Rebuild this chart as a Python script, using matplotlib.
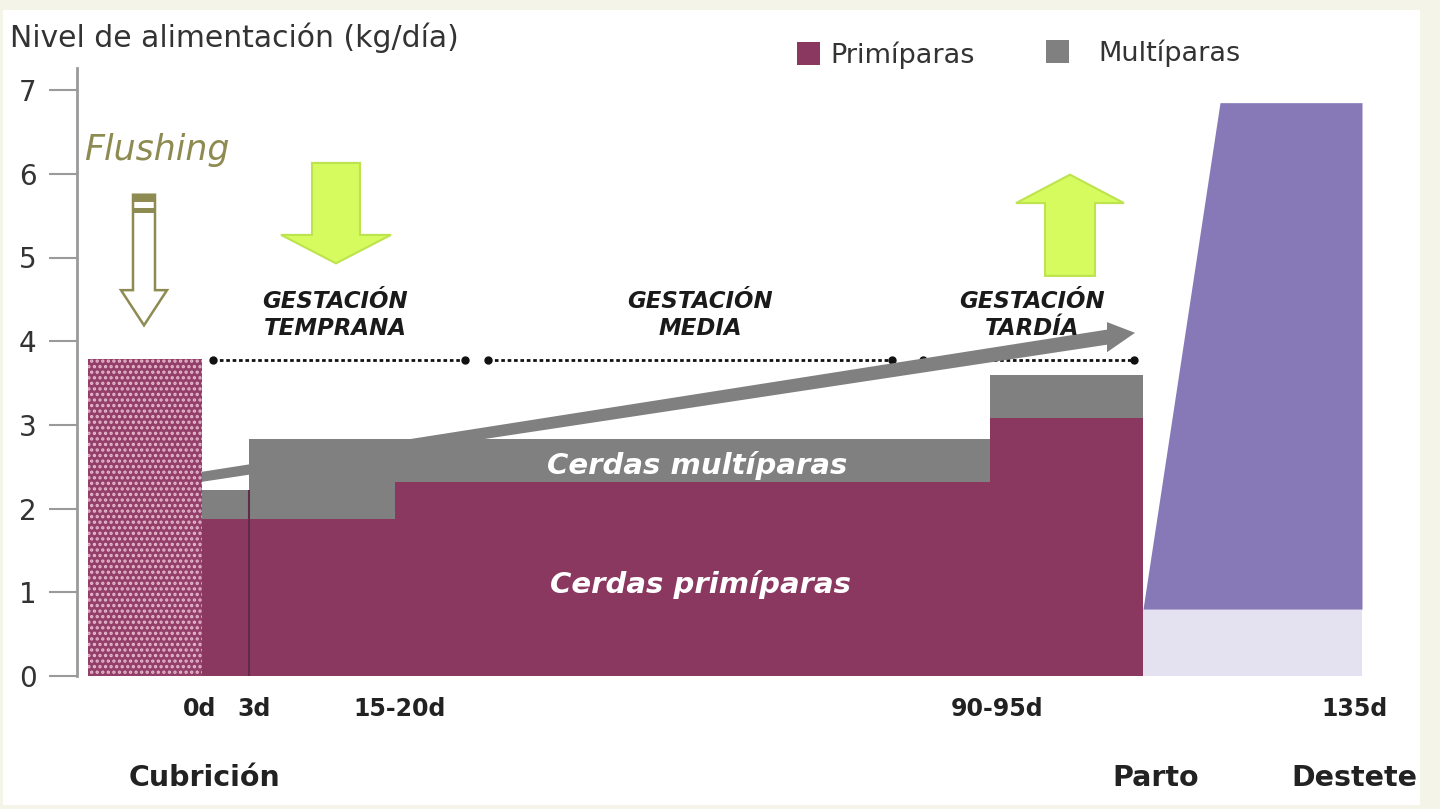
import numpy as np
import matplotlib.pyplot as plt
from matplotlib.patches import Polygon, Rectangle

# posiciones esquemáticas en x (el esquema no está a escala de días)
fases_x = [202, 249, 395, 990, 1143]      # 0d, 3d, 15-20d, 90-95d, parto
primiparas = [1.87, 1.87, 2.32, 3.08]     # kg/día
multiparas = [2.22, 2.83, 2.83, 3.60]     # kg/día

flushing_x = [88, 202]
flushing_nivel = 3.79

lactacion_x = [1143, 1220, 1362]
lactacion_base = 0.80
lactacion_max = 6.85

dias_pos = [200, 254, 400, 997, 1354]
dias_txt = ['0d', '3d', '15-20d', '90-95d', '135d']

hitos_pos = [205, 1156, 1354]
hitos_txt = ['Cubrición', 'Parto', 'Destete']

periodos_txt = ['GESTACIÓN\nTEMPRANA', 'GESTACIÓN\nMEDIA', 'GESTACIÓN\nTARDÍA']
periodos_ini = [213, 488, 923]
periodos_fin = [465, 892, 1134]
periodos_centro = [335, 700, 1032]
periodos_nivel = 3.78

# flecha gris de tendencia: cola (x, y), punta (x, y)
tendencia_cola = (202, 2.38)
tendencia_punta = (1135, 4.10)

MAG = '#8b3860'
GRIS = '#808080'
LILA = '#8779b7'
LILA_CLARO = '#e4e2f1'
LIMA = '#d6fb5f'
OLIVA = '#8e8b52'

plt.rcParams['hatch.linewidth'] = 1.6

W, H = 1440, 809
fig = plt.figure(figsize=(W / 100, H / 100), dpi=100, facecolor='#f5f4e8')
fig.add_artist(Rectangle((3 / W, 1 - 805 / H), 1417 / W, 795 / H,
                         transform=fig.transFigure, facecolor='white',
                         edgecolor='none', zorder=-1))

ax = fig.add_axes([77 / W, 1 - 676 / H, (1420 - 77) / W, (676 - 68) / H])
ax.patch.set_visible(False)
ax.set_xlim(77, 1420)
ax.set_ylim(0, (676 - 68) / 83.7)
for s in ['top', 'right', 'bottom']:
    ax.spines[s].set_visible(False)
ax.spines['left'].set_color('#9a9a9a')
ax.spines['left'].set_linewidth(2)

ax.set_yticks(range(8))
ax.tick_params(axis='y', length=20, width=1.5, color='#9a9a9a', pad=9,
               labelsize=20, labelcolor='#333333')
ax.set_xticks(dias_pos, dias_txt)
ax.tick_params(axis='x', length=0, pad=15, labelsize=17, labelcolor='#222222')
for lbl in ax.get_xticklabels():
    lbl.set_fontweight('bold')

# barras escalonadas
ax.stairs([flushing_nivel], flushing_x, baseline=0, fill=True,
          facecolor='#933f69', edgecolor='#e6b8cd', hatch='...', linewidth=0)
ax.stairs(primiparas, fases_x, baseline=0, fill=True, color=MAG)
ax.stairs(multiparas, fases_x, baseline=primiparas, fill=True, color=GRIS)
ax.vlines(fases_x[1], 0, multiparas[0], color='#5e2c47', lw=1.5)

# lactación
ax.fill_between([lactacion_x[0], lactacion_x[-1]], 0, lactacion_base,
                color=LILA_CLARO, lw=0)
ax.fill_between(lactacion_x, lactacion_base,
                [lactacion_base, lactacion_max, lactacion_max], color=LILA, lw=0)

# flecha gris de tendencia
x0, y0 = tendencia_cola
xt, yt = tendencia_punta
xb = xt - 28
yb = y0 + (yt - y0) * (xb - x0) / (xt - x0)
verts = [(x0, y0 + 0.06), (xb, yb + 0.09), (xb, yb + 0.18), (xt, yt),
         (xb, yb - 0.18), (xb, yb - 0.09), (x0, y0 - 0.06)]
ax.add_patch(Polygon(verts, closed=True, facecolor=GRIS, edgecolor='none', zorder=4))


def flecha_vertical(cx, y_cola, y_base, y_punta, semi_cuerpo, semi_cabeza, **kw):
    v = [(cx - semi_cuerpo, y_cola), (cx + semi_cuerpo, y_cola),
         (cx + semi_cuerpo, y_base), (cx + semi_cabeza, y_base),
         (cx, y_punta), (cx - semi_cabeza, y_base), (cx - semi_cuerpo, y_base)]
    ax.add_patch(Polygon(v, closed=True, zorder=5, **kw))


flecha_vertical(336, 6.13, 5.27, 4.93, 24, 55, facecolor=LIMA, edgecolor='#bde34e', lw=1.5)
flecha_vertical(1070, 4.78, 5.65, 5.99, 25, 54, facecolor=LIMA, edgecolor='#bde34e', lw=1.5)
flecha_vertical(144, 5.75, 4.61, 4.19, 11, 23, facecolor='white', edgecolor=OLIVA, lw=1.8)
ax.add_patch(Rectangle((133, 5.66), 22, 0.09, facecolor=OLIVA, edgecolor='none', zorder=6))
ax.add_patch(Rectangle((133, 5.53), 22, 0.06, facecolor=OLIVA, edgecolor='none', zorder=6))

# periodos de gestación
for t, a, b, c in zip(periodos_txt, periodos_ini, periodos_fin, periodos_centro):
    ax.plot([a, b], [periodos_nivel, periodos_nivel], color='#111111', lw=2.0,
            ls=(0, (1.3, 1.0)), zorder=3)
    ax.plot([a, b], [periodos_nivel, periodos_nivel], 'o', ms=5,
            color='#111111', zorder=3)
    ax.text(c, 4.31, t, ha='center', va='center', fontsize=16.5,
            fontweight='bold', fontstyle='italic', color='#1a1a1a',
            linespacing=1.2, zorder=7)

ax.text(157, 6.28, 'Flushing', ha='center', va='center', fontsize=25,
        fontstyle='italic', color=OLIVA)
ax.text(697, 2.52, 'Cerdas multíparas', ha='center', va='center', fontsize=21,
        fontweight='bold', fontstyle='italic', color='white', zorder=8)
ax.text(700, 1.09, 'Cerdas primíparas', ha='center', va='center', fontsize=21,
        fontweight='bold', fontstyle='italic', color='white', zorder=8)

for x, t in zip(hitos_pos, hitos_txt):
    ax.text(x, (676 - 778) / 83.7, t, ha='center', va='center', fontsize=20.5,
            fontweight='bold', color='#222222', clip_on=False)

# título del eje y leyenda
fig.text(10 / W, 1 - 38 / H, 'Nivel de alimentación (kg/día)', ha='left',
         va='center', fontsize=21.5, color='#333333')
leyenda = [('Primíparas', MAG, 797, 42, 830), ('Multíparas', GRIS, 1046, 40, 1098)]
for t, col, xs, ys, xt_ in leyenda:
    fig.add_artist(Rectangle((xs / W, 1 - (ys + 23) / H), 23 / W, 23 / H,
                             transform=fig.transFigure, facecolor=col,
                             edgecolor='none'))
    fig.text(xt_ / W, 1 - (ys + 13) / H, t, ha='left', va='center',
             fontsize=19.5, color='#333333')

fig.savefig('out.png', dpi=100, facecolor=fig.get_facecolor())
